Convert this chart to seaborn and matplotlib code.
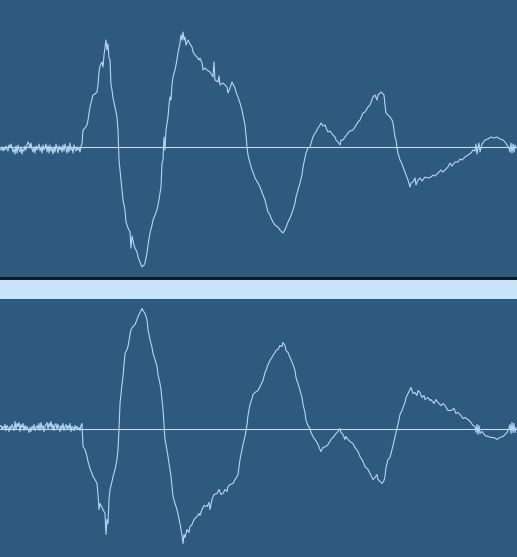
import numpy as np
import pandas as pd
import matplotlib
matplotlib.use("Agg")
import matplotlib.pyplot as plt
from matplotlib.patches import Rectangle
import seaborn as sns

# ---------------- data (sample index, sample level) ----------------
noise_x = list(range(0, 83))
top_noise = [-2, -3, 0, -4, -1, -3, 1, -2, -4, 2, 0, 3, -1, -5, -2, -7, 1, -6, 2, -3,
             -5, 0, -7, -2, -4, 1, -3, 2, 5, 3, -1, 4, -2, -5, 0, -6, 1, -3, -1, 3,
             -4, 0, -6, 2, -3, -1, 3, -5, 1, -6, 2, -4, -1, -7, 0, -5, 3, -2, -6, 1,
             -3, 0, -5, 2, -4, 3, -2, -6, 1, -5, 4, -3, -1, -6, 2, -2, -4, 0, -3, -1,
             -5, 1, 3]
bottom_noise = [2, 3, -1, 2, 0, 4, -2, 3, 1, -3, 2, 0, 4, 1, -2, 7, -1, 5, 2, 6,
                -3, 4, 1, 5, -2, 3, -1, 2, 0, -4, 1, -3, 2, 0, 4, -2, 1, 3, -1, 5,
                -2, 6, 0, 3, -3, 2, 4, 6, -1, 5, 2, 7, 0, 4, -2, 3, 5, -1, 4, 1,
                -3, 3, 0, 5, -2, 2, 4, -1, 3, 0, 5, -3, 2, 1, -2, 3, 0, 2, -1, 1,
                -2, 3, 5]

top_x = [83, 85, 87, 88, 90, 91, 93, 95, 97, 98, 99, 100, 102, 103, 104, 106, 107, 108, 109, 110,
         111, 112, 113, 115, 117, 118, 119, 120, 122, 123, 125, 126, 128, 130, 131, 132, 134, 135,
         137, 138, 140, 142, 144, 145, 147, 148, 150, 152, 153, 155, 157, 159, 160, 161, 162, 163,
         164, 165, 166, 168, 169, 170, 171, 172, 173, 175, 176, 178, 179, 180, 181, 182, 183, 184,
         185, 186, 188, 190, 192, 193, 195, 197, 199, 200, 202, 203, 205, 207, 210, 212, 213, 214,
         215, 218, 219, 220, 223, 225, 227, 228, 230, 232, 233, 235, 236, 238, 240, 242, 243, 245,
         246, 247, 248, 250, 252, 253, 255, 258, 260, 263, 265, 268, 270, 271, 273, 275, 278, 280,
         283, 285, 288, 290, 293, 295, 296, 298, 300, 302, 303, 305, 306, 308, 310, 312, 313, 315,
         316, 318, 320, 321, 323, 325, 327, 328, 330, 333, 335, 336, 338, 340, 341, 343, 345, 348,
         350, 353, 355, 358, 360, 363, 365, 368, 370, 373, 375, 377, 378, 380, 381, 383, 384, 385,
         386, 388, 390, 392, 393, 394, 395, 396, 397, 398, 400, 402, 403, 405, 406, 408, 410, 411,
         413, 415, 416, 418, 420, 422, 425, 428, 431, 433, 435, 438, 441, 443, 445, 448, 450, 452,
         455, 458, 460, 462, 465, 468, 471, 473, 475, 476, 477, 478, 479, 480, 482, 485, 488, 491,
         494, 497, 500, 503, 505, 507, 509, 510, 511, 512, 513, 514, 515, 516]
top_level = [17, 19, 22, 27, 40, 44, 52, 53, 55, 62, 75, 81, 85, 80, 92, 107, 97, 103, 89, 87,
             62, 57, 49, 40, 30, 17, -13, -23, -43, -53, -63, -75, -81, -85, -101, -89, -98, -101,
             -105, -110, -115, -120, -118, -116, -106, -98, -86, -78, -73, -68, -63, -53, -46, -40, -16, -13,
             10, -3, 17, 30, 42, 50, 47, 62, 70, 77, 82, 94, 99, 104, 112, 107, 115, 107,
             110, 102, 107, 103, 100, 95, 92, 90, 87, 89, 84, 77, 79, 77, 75, 72, 70, 85,
             67, 65, 71, 62, 64, 62, 60, 54, 59, 65, 63, 59, 55, 50, 44, 37, 32, 22,
             12, 0, -8, -16, -23, -25, -31, -36, -40, -48, -53, -65, -68, -71, -75, -78, -80, -83,
             -86, -83, -75, -71, -63, -56, -50, -43, -36, -28, -20, -11, -6, -1, 0, 7, 10, 14,
             15, 19, 22, 24, 21, 22, 17, 15, 16, 12, 10, 7, 5, 2, 7, 7, 10, 14,
             16, 17, 20, 25, 27, 34, 35, 40, 42, 50, 52, 47, 52, 54, 55, 53, 52, 42,
             34, 32, 30, 27, 24, 17, 10, 7, -1, -6, -13, -17, -20, -25, -28, -33, -40, -36,
             -35, -31, -38, -33, -31, -34, -30, -31, -30, -28, -29, -26, -23, -25, -23, -20, -16, -19,
             -15, -15, -12, -13, -10, -8, -6, -3, -4, 3, -7, -1, 4, -5, 3, 7, 8, 10,
             9, 10, 8, 7, 5, 2, -1, -5, 4, -6, 3, -5, 2, -1]

bottom_x = [83, 85, 87, 88, 90, 92, 93, 95, 97, 98, 99, 100, 102, 103, 105, 106, 107, 108, 109, 110,
            112, 113, 115, 117, 118, 119, 120, 122, 123, 125, 127, 128, 130, 131, 133, 135, 137, 138,
            140, 142, 143, 145, 147, 148, 150, 152, 153, 155, 157, 158, 160, 161, 163, 164, 165, 166,
            168, 170, 171, 173, 175, 177, 179, 180, 182, 183, 184, 185, 187, 189, 190, 192, 194, 197,
            199, 200, 202, 204, 207, 209, 210, 212, 214, 217, 219, 221, 223, 225, 227, 228, 230, 233,
            235, 237, 238, 240, 242, 243, 245, 247, 248, 250, 252, 253, 255, 258, 260, 263, 265, 266,
            268, 270, 273, 275, 276, 278, 280, 282, 283, 285, 286, 288, 290, 293, 295, 296, 298, 300,
            302, 303, 305, 306, 308, 310, 311, 313, 315, 317, 318, 320, 321, 323, 326, 328, 331, 333,
            336, 338, 340, 341, 343, 345, 346, 348, 350, 353, 355, 358, 360, 363, 365, 368, 370, 372,
            373, 375, 377, 378, 380, 382, 384, 385, 386, 388, 390, 391, 393, 395, 396, 397, 398, 400,
            402, 403, 405, 406, 408, 410, 411, 412, 413, 415, 417, 418, 420, 422, 424, 425, 428, 430,
            431, 434, 436, 438, 441, 443, 445, 448, 451, 454, 456, 458, 461, 463, 465, 468, 471, 473,
            475, 476, 477, 478, 479, 480, 482, 485, 488, 491, 494, 497, 500, 503, 505, 507, 509, 510,
            511, 512, 513, 514, 515, 516]
bottom_level = [-18, -21, -28, -33, -40, -45, -48, -51, -55, -66, -81, -75, -79, -81, -85, -106, -91, -95, -71, -61,
                -53, -48, -41, -31, -21, -1, 25, 44, 52, 75, 79, 82, 94, 99, 102, 104, 109, 112,
                116, 120, 118, 115, 109, 99, 89, 81, 75, 69, 62, 54, 45, 39, 19, 4, -11, -16,
                -28, -41, -48, -68, -75, -81, -90, -95, -107, -115, -106, -109, -101, -104, -98, -96, -91, -88,
                -85, -87, -81, -77, -78, -74, -81, -71, -66, -65, -61, -66, -65, -61, -63, -58, -56, -55,
                -51, -48, -46, -31, -21, -16, -8, 4, 13, 24, 30, 34, 36, 38, 42, 48, 56, 58,
                64, 68, 73, 76, 78, 79, 83, 82, 86, 83, 78, 76, 71, 64, 58, 51, 45, 38,
                31, 24, 16, 8, 3, 0, -4, -8, -11, -14, -16, -21, -23, -19, -18, -16, -11, -9,
                -5, -3, 0, -4, -6, -11, -8, -11, -13, -15, -19, -23, -28, -33, -38, -41, -45, -49,
                -51, -49, -46, -51, -53, -55, -52, -48, -39, -31, -29, -25, -17, -8, -4, 0, 4, 14,
                18, 21, 26, 31, 35, 39, 41, 38, 35, 36, 33, 38, 36, 31, 33, 29, 31, 28,
                29, 25, 29, 26, 23, 25, 23, 18, 18, 20, 15, 16, 13, 10, 11, 9, 6, 3,
                2, -4, 4, -6, 3, -5, -3, -7, -8, -9, -9, -11, -9, -8, -6, -4, 0, 4,
                -5, 6, -4, 5, -4, 1]

# ---------------- styling ----------------
W, H = 517, 557
BG = "#2e5a80"
WAVE = "#b5d5f3"
CENTER = "#bcdaf5"
BAND = "#c8e4fa"
DARK = "#141a20"

sns.set_theme(style="white")
fig = plt.figure(figsize=(W / 100, H / 100), dpi=100)
fig.patch.set_facecolor(BAND)

px = 1.0 / H  # figure fraction per pixel (vertical)
ax_top = fig.add_axes([0, (H - 277) * px, 1, 277 * px])
ax_bot = fig.add_axes([0, 0, 1, 258 * px])

fig.add_artist(Rectangle((0, (H - 280) * px), 1, 3 * px, transform=fig.transFigure,
                         facecolor=DARK, edgecolor="none"))

top_df = pd.DataFrame({"t": noise_x + top_x, "v": top_noise + top_level})
bot_df = pd.DataFrame({"t": noise_x + bottom_x, "v": bottom_noise + bottom_level})

lw = 0.8
for ax, df, ylim in [(ax_top, top_df, (-130, 147)), (ax_bot, bot_df, (-128.5, 129.5))]:
    ax.set_facecolor(BG)
    ax.axhline(0, color=CENTER, lw=lw, zorder=1)
    sns.lineplot(data=df, x="t", y="v", ax=ax, color=WAVE, lw=lw, estimator=None,
                 sort=False, zorder=2)
    ax.set_xlim(0, W)
    ax.set_ylim(*ylim)
    ax.set_xticks([])
    ax.set_yticks([])
    ax.set_xlabel("")
    ax.set_ylabel("")
    for s in ax.spines.values():
        s.set_visible(False)

fig.savefig("out.png", dpi=100, facecolor=fig.get_facecolor())
